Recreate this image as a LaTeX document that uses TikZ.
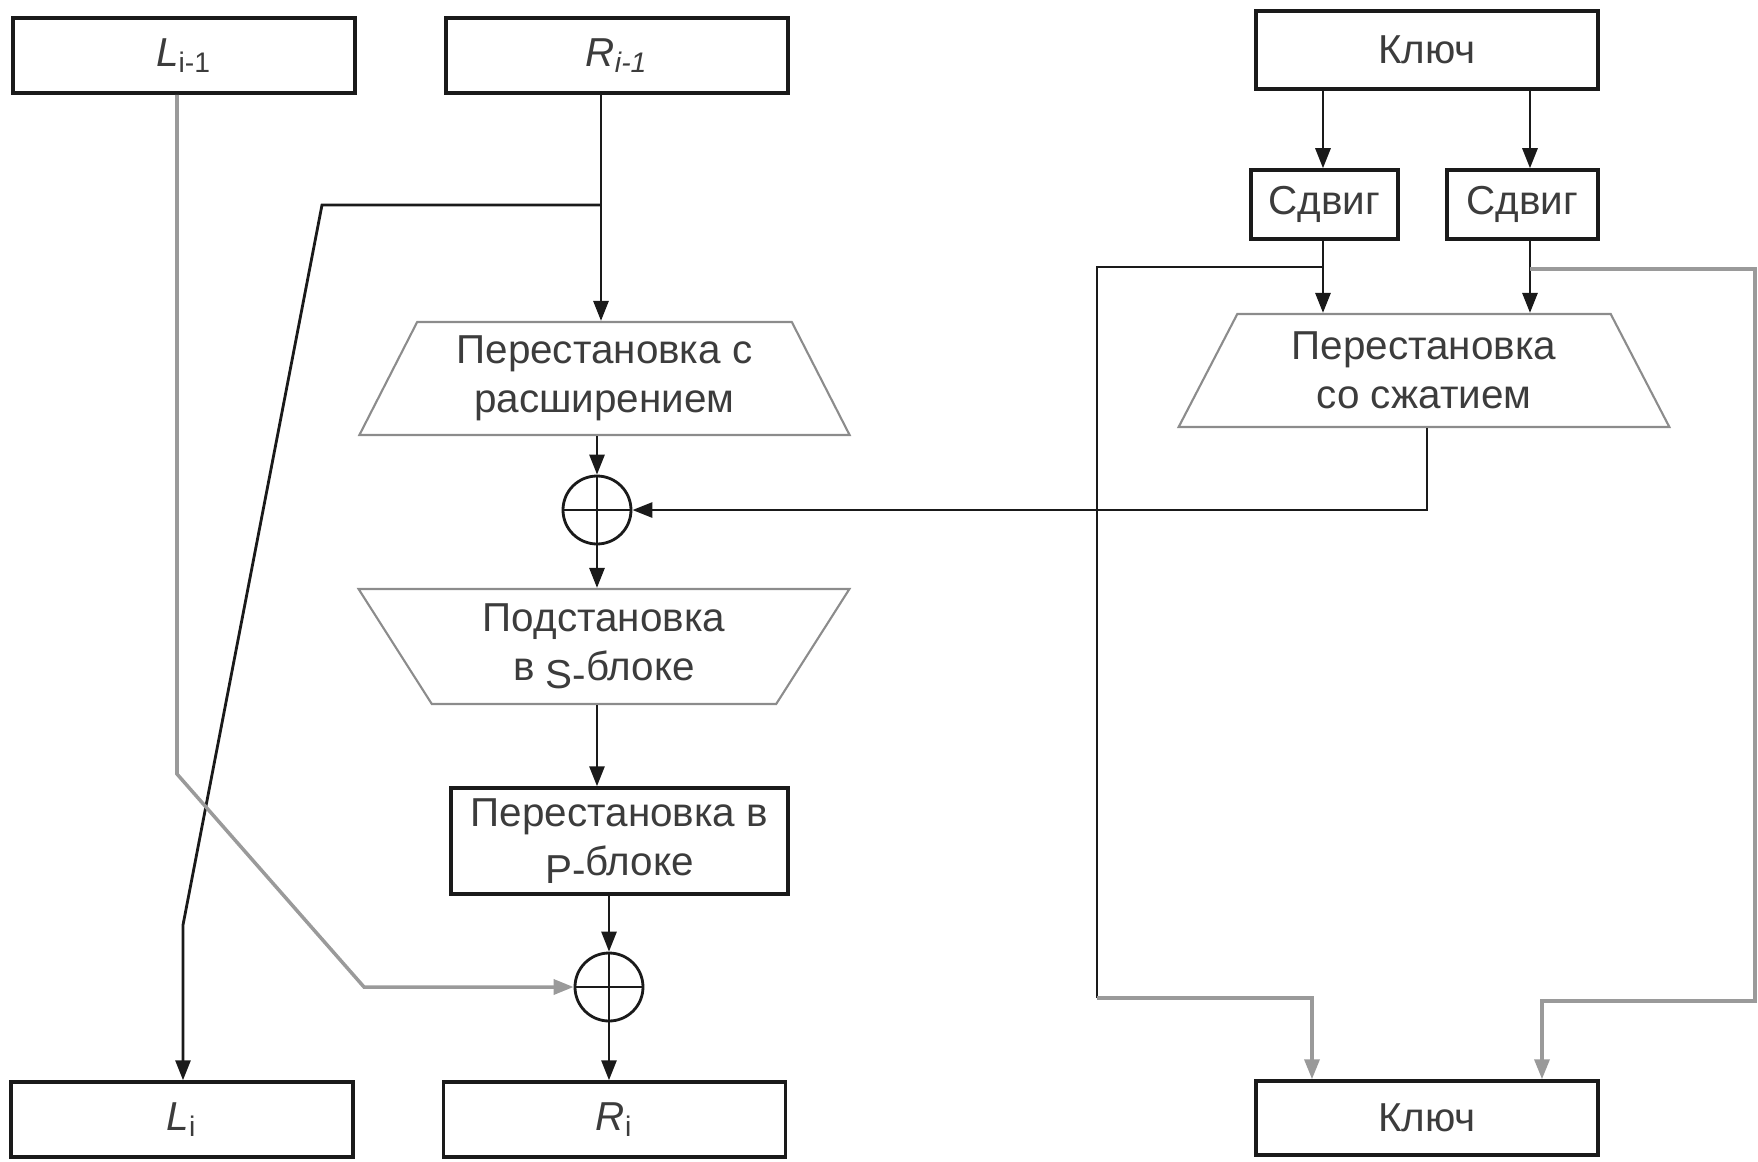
\documentclass[tikz,border=0pt]{standalone}
\usepackage{fontspec}
\setmainfont{Liberation Sans}
\usepackage{xcolor}
\definecolor{ink}{HTML}{1A1A1A}
\definecolor{wire}{HTML}{9A9A9A}
\definecolor{frame}{HTML}{8C8C8C}
\usepackage{tikz}
\usetikzlibrary{arrows.meta,positioning,calc,shapes.geometric}
\tikzset{
  every picture/.style={font=\fontsize{11.5}{13.8}\selectfont, line width=0.8pt},
  block/.style={draw=ink, line width=1pt, text=ink!85, align=center, minimum width=#1, minimum height=7.5mm, inner sep=2pt},
  block/.default=34.2mm,
  trap/.style={trapezium, trapezium stretches=true, draw=frame, line width=0.6pt, align=center, text=ink!85, minimum width=49.1mm, minimum height=11.3mm, inner sep=1pt},
  xorsym/.style={circle, draw=ink, minimum size=6.8mm, inner sep=0pt,
    path picture={\draw[ink, line width=0.6pt] (path picture bounding box.north) -- (path picture bounding box.south)
      (path picture bounding box.west) -- (path picture bounding box.east);}},
  arrow/.style={-{Triangle[length=2mm,width=1.5mm]}, draw=ink},
  greyarrow/.style={arrow, draw=wire, line width=1pt},
}

\begin{document}
\begin{tikzpicture}[x=0.1mm, y=-0.1mm]
  \useasboundingbox (0,0) rectangle (1758,1162);
  % round: left and right halves
  \node[block] (Lin) at (184,55.5) {\textit{L}\textsubscript{i-1}};
  \node[block] (Rin) at (617,55.5) {\textit{R\textsubscript{i-1}}};
  \node[trap, trapezium angle=63] (exp) at (604.5,378.5) {Перестановка с\\расширением};
  \node[xorsym] (x1) at (597,510) {};
  \node[trap, trapezium angle=120, minimum height=11.5mm] (sbox) at (604,646.5) {Подстановка\\в \raisebox{-0.2em}{S-}блоке};
  \node[block=33.7mm, minimum height=10.6mm] (pbox) at (619.5,841) {Перестановка в\\\raisebox{-0.2em}{Р-}блоке};
  \node[xorsym] (x2) at (609,987) {};
  \node[block] (Lout) at (182,1119.5) {\textit{L}\textsubscript{i}};
  \node[block] (Rout) at (614.5,1119.5) {\textit{R}\textsubscript{i}};
  % key schedule
  \node[block, minimum height=7.8mm] (keyin) at (1427,50) {Ключ};
  \node[block=14.7mm, minimum height=6.9mm] (sh1) at (1324.5,204.5) {Сдвиг};
  \node[block=15.1mm, minimum height=6.9mm] (sh2) at (1522.5,204.5) {Сдвиг};
  \node[trap, trapezium angle=63] (comp) at (1424,370.5) {Перестановка\\со сжатием};
  \node[block, minimum height=7.4mm] (keyout) at (1427,1118) {Ключ};

  \coordinate (rsplit) at (601,205);
  \coordinate (bend1) at (322,205);
  \coordinate (bend2) at (183,925);
  \coordinate (g1) at (177,774);
  \coordinate (g2) at (364,987);
  \draw[arrow] (Rin.south -| rsplit) -- (exp.north -| rsplit);
  \draw[arrow] (rsplit) -- (bend1) -- (bend2) -- (Lout.north -| bend2);
  \draw[greyarrow] (Lin.south -| g1) -- (g1) -- (g2) -- (x2.west);
  \draw[arrow] (exp.south -| x1) -- (x1.north);
  \draw[arrow] (x1.south) -- (sbox.north -| x1);
  \draw[arrow] (sbox.south -| x1) -- (pbox.north -| x1);
  \draw[arrow] (pbox.south -| x2) -- (x2.north);
  \draw[arrow] (x2.south) -- (Rout.north -| x2);

  \coordinate (kc1) at (1323,0);
  \coordinate (kc2) at (1530,0);
  \foreach \k/\s in {kc1/sh1, kc2/sh2} {
    \draw[arrow] (keyin.south -| \k) -- (\s.north -| \k);
    \draw[arrow] (\s.south -| \k) -- (comp.north -| \k);
  }
  \coordinate (a1) at (1097,267);
  \coordinate (a2) at (1097,998);
  \coordinate (a3) at (1312,998);
  \draw[ink] (kc1 |- a1) -- (a1) -- (a2);
  \draw[greyarrow] (a2) -- (a3) -- (keyout.north -| a3);
  \coordinate (b1) at (1755,269);
  \coordinate (b2) at (1755,1001);
  \coordinate (b3) at (1542,1001);
  \draw[greyarrow] (kc2 |- b1) -- (b1) -- (b2) -- (b3) -- (keyout.north -| b3);
  \coordinate (fb) at (1427,510);
  \draw[arrow] (comp.south -| fb) -- (fb) -- (x1.east);
\end{tikzpicture}
\end{document}
